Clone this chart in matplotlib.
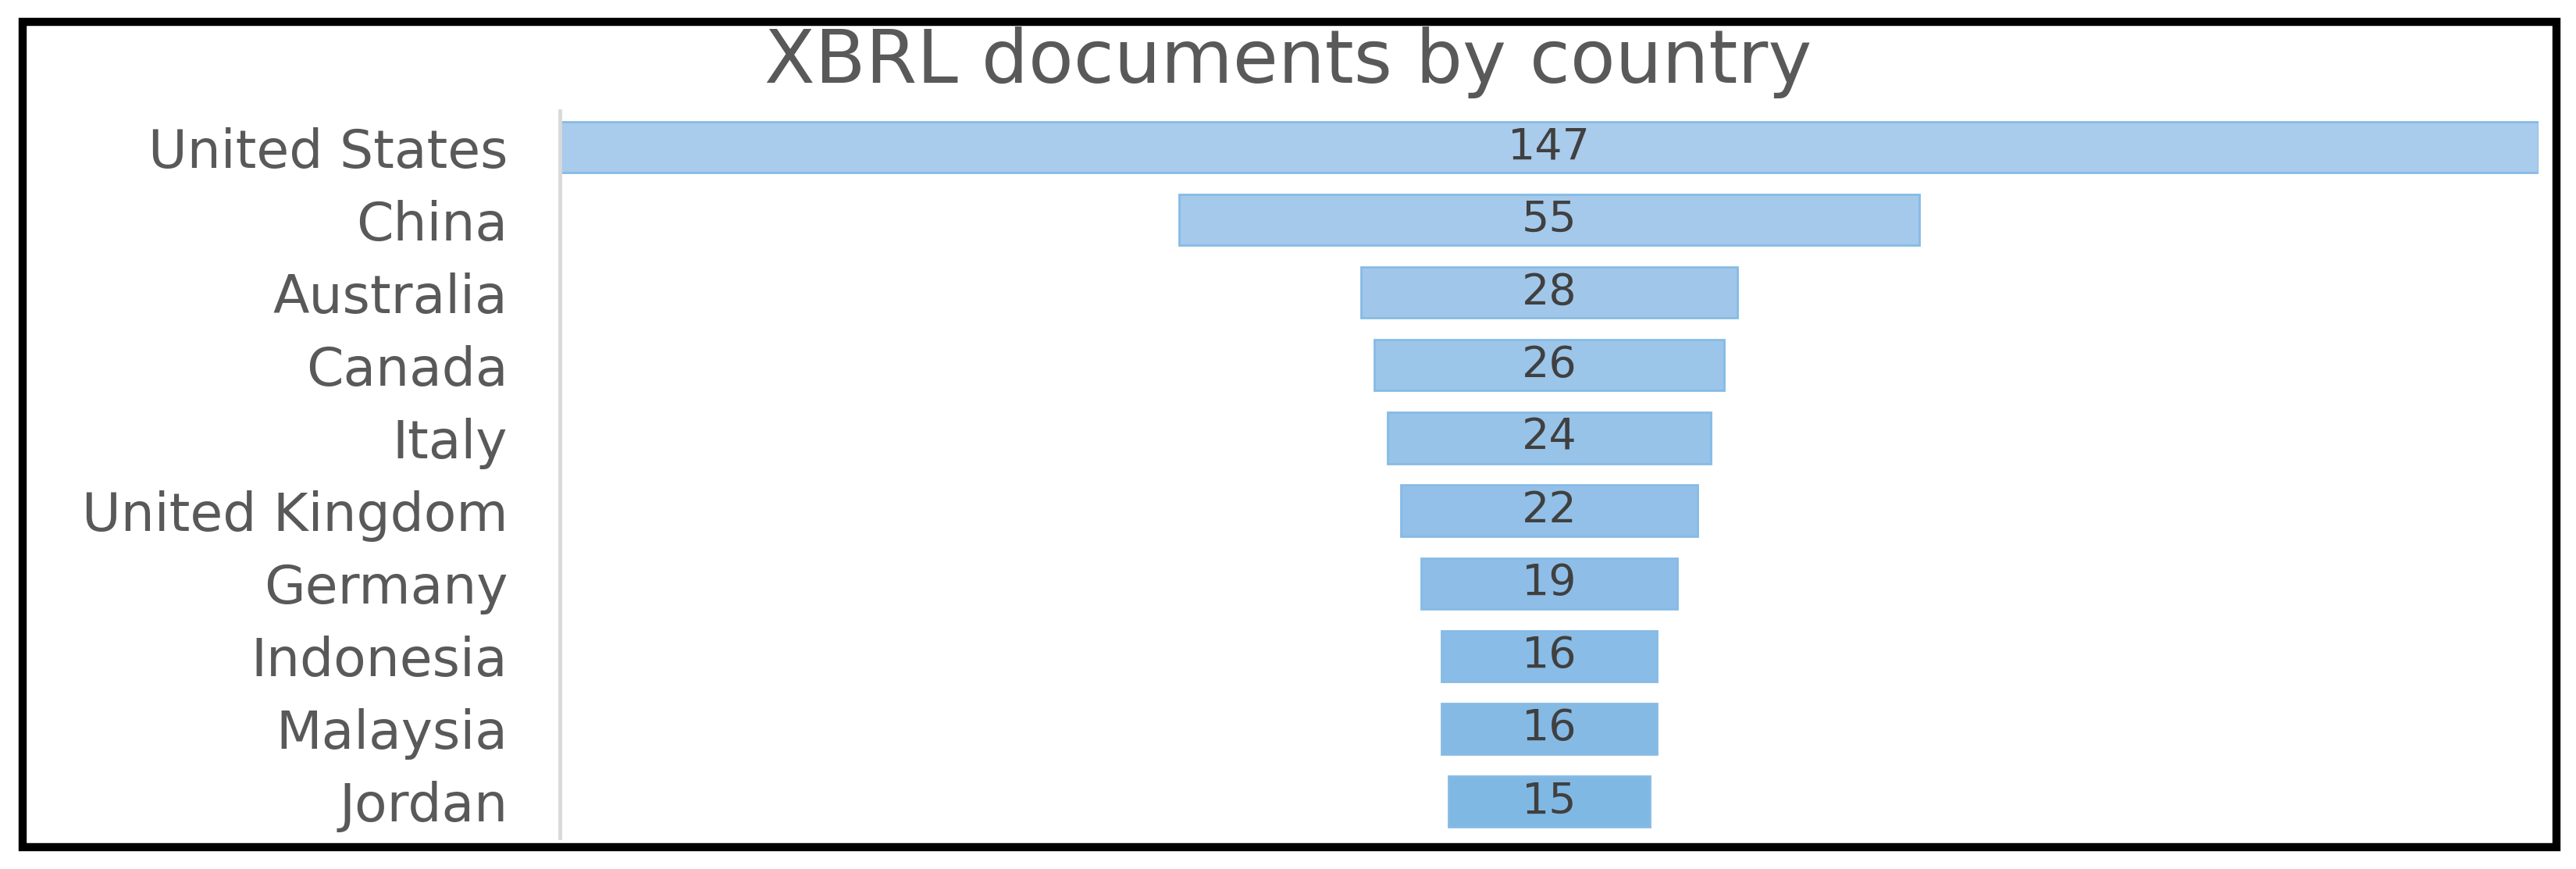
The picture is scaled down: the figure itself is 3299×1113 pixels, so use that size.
import numpy as np
import matplotlib
matplotlib.use("Agg")
import matplotlib.pyplot as plt
from matplotlib.patches import Rectangle
from matplotlib.colors import LinearSegmentedColormap

# ---- data ----
countries = ["United States", "China", "Australia", "Canada", "Italy",
             "United Kingdom", "Germany", "Indonesia", "Malaysia", "Jordan"]
documents = [147, 55, 28, 26, 24, 22, 19, 16, 16, 15]
title = "XBRL documents by country"

plt.rcParams["font.family"] = ["DejaVu Sans"]

W, H, DPI = 3299, 1113, 100
fig = plt.figure(figsize=(W / DPI, H / DPI), dpi=DPI)
fig.patch.set_facecolor("white")

ax_left, ax_right = 717 / W, 3251 / W
ax_top, ax_bottom = 1 - 142 / H, 1 - 1073 / H
ax = fig.add_axes([ax_left, ax_bottom, ax_right - ax_left, ax_top - ax_bottom])

vals = np.array(documents, dtype=float)
vmax = vals.max()
ypos = np.arange(len(countries))
lefts = (vmax - vals) / 2  # funnel: centered bars

cmap = LinearSegmentedColormap.from_list("fun", ["#A9CBEC", "#80B8E4"])
colors = [cmap(i / (len(countries) - 1)) for i in range(len(countries))]

bars = ax.barh(ypos, vals, left=lefts, height=0.70, color=colors,
               edgecolor="#86BBE5", linewidth=2.0)

for b, v in zip(bars, documents):
    ax.text(b.get_x() + b.get_width() / 2, b.get_y() + b.get_height() / 2,
            f"{v}", ha="center", va="center", fontsize=40, color="#404040")

ax.set_xlim(0, vmax)
ax.set_ylim(len(countries) - 0.5, -0.5)
ax.set_yticks(ypos)
ax.set_yticklabels(countries, fontsize=49, color="#595959")
ax.tick_params(axis="y", length=0, pad=48)
ax.set_xticks([])
for s in ["top", "right", "bottom"]:
    ax.spines[s].set_visible(False)
ax.spines["left"].set_color("#D9D9D9")
ax.spines["left"].set_linewidth(3.5)

fig.text(0.5, 1 - 80 / H, title, ha="center", va="center",
         fontsize=68, color="#595959")

# outer black frame
x0, x1 = 28.5 / W, 3274 / W
y0, y1 = 1 - 1085 / H, 1 - 27.5 / H
fig.patches.append(Rectangle((x0, y0), x1 - x0, y1 - y0, transform=fig.transFigure,
                             fill=False, edgecolor="black", linewidth=7.5))

fig.savefig("out.png", dpi=DPI, facecolor="white")
